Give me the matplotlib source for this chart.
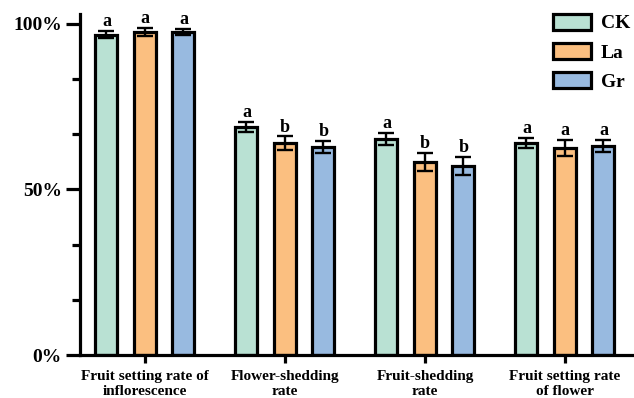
import numpy as np
import matplotlib.pyplot as plt

plt.rcParams['font.family'] = ['Liberation Serif', 'DejaVu Serif']
plt.rcParams['font.weight'] = 'bold'

categories = ["Fruit setting rate of\ninflorescence", "Flower-shedding\nrate",
              "Fruit-shedding\nrate", "Fruit setting rate\nof flower"]
groups = ["CK", "La", "Gr"]
ck = [96.7, 68.9, 65.3, 64.0]
la = [97.6, 64.0, 58.3, 62.5]
gr = [97.6, 62.8, 57.1, 63.1]
ck_err = [1.1, 1.5, 1.8, 1.5]
la_err = [1.2, 2.0, 2.7, 2.3]
gr_err = [0.9, 1.8, 2.7, 1.8]
ck_sig = ["a", "a", "a", "a"]
la_sig = ["a", "b", "b", "a"]
gr_sig = ["a", "b", "b", "a"]

colors = ["#b9e1d3", "#fbbf80", "#98bae0"]
values = [ck, la, gr]
errs = [ck_err, la_err, gr_err]
sigs = [ck_sig, la_sig, gr_sig]

fig = plt.figure(figsize=(6.34, 3.98), dpi=100)
ax = fig.add_axes([80/634, 1-355/398, 554/634, 341/398])

x = np.arange(len(categories))
off = 0.275
w = 0.157
for i in range(3):
    xs = x + (i - 1) * off
    ax.bar(xs, values[i], w, color=colors[i], edgecolor='black', linewidth=2.3,
           label=groups[i], zorder=2)
    ax.errorbar(xs, values[i], yerr=errs[i], fmt='none', ecolor='black',
                elinewidth=1.7, capsize=6, capthick=1.7, zorder=3)
    for xi, v, e, s in zip(xs, values[i], errs[i], sigs[i]):
        ax.text(xi, v + e + 0.3, s, ha='center', va='bottom', fontsize=13,
                fontweight='bold')

ax.set_xlim(-0.464, 3.493)
ax.set_ylim(0, 103)
ax.set_yticks([0, 50, 100])
ax.set_yticklabels(["0%", "50%", "100%"], fontsize=14, fontweight='bold')
ax.set_yticks([100/6, 200/6, 400/6, 500/6], minor=True)
ax.set_xticks(x)
ax.set_xticklabels(categories, fontsize=11, fontweight='bold')

for s in ['top', 'right']:
    ax.spines[s].set_visible(False)
for s in ['left', 'bottom']:
    ax.spines[s].set_linewidth(2.3)
ax.tick_params(axis='y', which='major', length=10, width=2.3, pad=3)
ax.tick_params(axis='y', which='minor', length=6, width=2.3)
ax.tick_params(axis='x', length=6, width=2.3, pad=5)

leg = ax.legend(loc='upper left', bbox_to_anchor=(553/634, 1-14/398),
                bbox_transform=fig.transFigure, frameon=False,
                borderaxespad=0, borderpad=0,
                prop={'size': 14, 'weight': 'bold'}, handlelength=1.95,
                handleheight=0.85, handletextpad=0.5, labelspacing=0.55)
for p in leg.get_patches():
    p.set_linewidth(2.3)

fig.savefig("out.png", dpi=100)
